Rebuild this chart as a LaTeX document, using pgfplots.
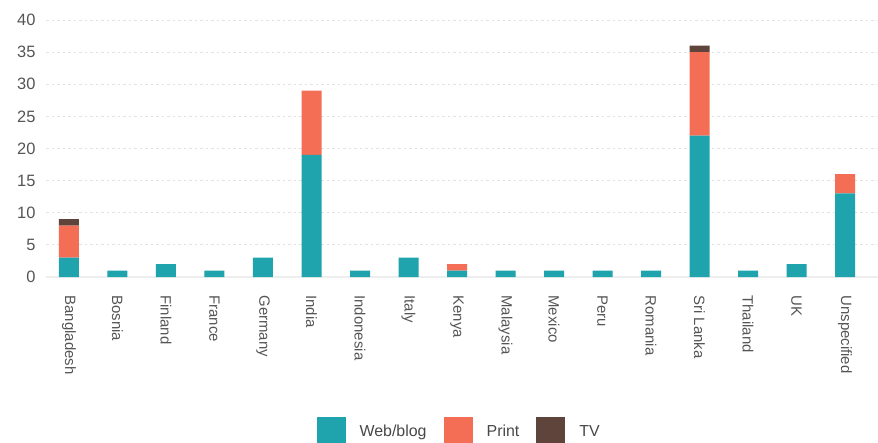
\documentclass[border=0pt]{standalone}
\usepackage{pgfplots}
\pgfplotsset{compat=1.18}
\usepackage{fontspec}
\setmainfont{Liberation Sans}
\definecolor{webc}{HTML}{1FA3AD}
\definecolor{printc}{HTML}{F36E55}
\definecolor{tvc}{HTML}{5E443A}
\definecolor{tickc}{HTML}{555555}
\definecolor{gridc}{HTML}{E2E2E2}
\definecolor{zeroc}{HTML}{EEEEEE}
\begin{document}
\begin{tikzpicture}
\path[use as bounding box] (-46bp,-166bp) rectangle (832bp,277bp);
\begin{axis}[
  at={(0,0)}, anchor=south west,
  scale only axis,
  width=832bp, height=257bp,
  ybar stacked,
  bar width=20bp,
  xmin=-0.474, xmax=16.68,
  ymin=0, ymax=40,
  ytick={5,10,...,40},
  extra y ticks={0},
  extra y tick style={grid style={solid, draw=zeroc, line width=2bp, dash pattern=}},
  ymajorgrids,
  grid style={draw=gridc, line width=1bp, dash pattern=on 2.5bp off 3bp},
  axis line style={draw=none},
  major tick length=0pt,
  tick style={draw=none},
  xtick={0,...,16},
  xticklabels={Bangladesh,Bosnia,Finland,France,Germany,India,Indonesia,Italy,Kenya,Malaysia,Mexico,Peru,Romania,Sri Lanka,Thailand,UK,Unspecified},
  tick label style={text=tickc},
  yticklabel style={font=\fontsize{16.5}{19}\selectfont, xshift=-7bp},
  /pgf/number format/assume math mode=true,
  xticklabel style={font=\fontsize{15}{18}\selectfont, rotate=-90, anchor=west},
  xticklabel shift=15bp,
  legend columns=3,
  legend style={at={(0.499,-0.601)}, anchor=center, draw=none, fill=none,
    font=\fontsize{16}{18}\selectfont, text=tickc!85!black,
    /tikz/every odd column/.append style={column sep=8bp},
    /tikz/every even column/.append style={column sep=11bp},
    nodes={inner xsep=6bp}},
  sq/.style={legend image code/.code={\fill[##1, draw=none] (0bp,-14.5bp) rectangle (29bp,14.5bp);}},
]
\addplot[fill=webc, draw=none, sq] coordinates {(0,3) (1,1) (2,2) (3,1) (4,3) (5,19) (6,1) (7,3) (8,1) (9,1) (10,1) (11,1) (12,1) (13,22) (14,1) (15,2) (16,13)};
\addplot[fill=printc, draw=none, sq] coordinates {(0,5) (1,0) (2,0) (3,0) (4,0) (5,10) (6,0) (7,0) (8,1) (9,0) (10,0) (11,0) (12,0) (13,13) (14,0) (15,0) (16,3)};
\addplot[fill=tvc, draw=none, sq] coordinates {(0,1) (1,0) (2,0) (3,0) (4,0) (5,0) (6,0) (7,0) (8,0) (9,0) (10,0) (11,0) (12,0) (13,1) (14,0) (15,0) (16,0)};
\legend{Web/blog,Print,TV}
\end{axis}
\end{tikzpicture}
\end{document}
